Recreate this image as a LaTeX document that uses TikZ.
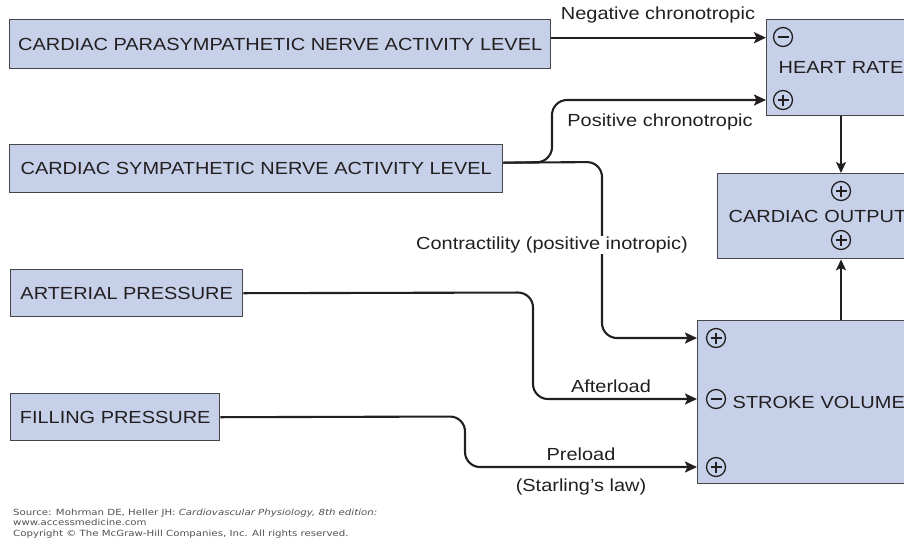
\documentclass[tikz,border=0pt]{standalone}
\usepackage{fontspec}
\setmainfont{Liberation Sans}[FakeStretch=1.14]
\newfontfamily\notefont{DejaVu Sans}[FakeStretch=1.2]
\usetikzlibrary{arrows.meta}

\definecolor{boxfill}{RGB}{198,208,233}
\definecolor{boxline}{RGB}{70,70,72}
\definecolor{ink}{RGB}{35,31,32}
\definecolor{notegray}{RGB}{80,80,80}
\newcommand\lbl{\fontsize{17.5}{20}\selectfont}
\newcommand\notesize{\notefont\fontsize{8.5}{10}\selectfont}

\begin{document}
\begin{tikzpicture}[x=1pt,y=-1pt,
  box/.style={draw=boxline, fill=boxfill, line width=1.4pt, inner ysep=0pt,
    text=ink, font=\lbl},
  leftbox/.style={box, anchor=north west, inner xsep=0pt},
  rightbox/.style={box, anchor=north west, align=left, text width=200pt},
  conn/.style={draw=ink, line width=2.1pt, rounded corners=15pt,
    -{Stealth[length=12pt,width=11pt,inset=2.5pt]}},
  vconn/.style={draw=ink, line width=1.8pt,
    -{Stealth[length=11pt,width=10pt,inset=2.5pt]}},
  tag/.style={text=ink, font=\lbl, inner sep=1pt},
  sign/.style={circle, draw=ink, line width=1.3pt, minimum size=19pt, inner sep=0pt},
  minus/.style={sign, path picture={\draw[line width=1.3pt]
    ([xshift=-5.5pt]path picture bounding box.center) --
    ([xshift=5.5pt]path picture bounding box.center);}},
  plus/.style={sign, path picture={\draw[line width=1.3pt]
    ([xshift=-5.5pt]path picture bounding box.center) --
    ([xshift=5.5pt]path picture bounding box.center)
    ([yshift=-5.5pt]path picture bounding box.center) --
    ([yshift=5.5pt]path picture bounding box.center);}},
  note/.style={anchor=base west, inner sep=0pt, text=notegray, font=\notesize}
]
\useasboundingbox (0,0) rectangle (904,542);
\clip (0,0) rectangle (904,542);

% input boxes on the left
\node[leftbox, minimum width=541pt, minimum height=49pt] (para) at (9,19)
  {CARDIAC PARASYMPATHETIC NERVE ACTIVITY LEVEL};
\node[leftbox, minimum width=493pt, minimum height=48pt] (sym) at (9,144)
  {CARDIAC SYMPATHETIC NERVE ACTIVITY LEVEL};
\node[leftbox, minimum width=232pt, minimum height=47pt] (art) at (10,269)
  {ARTERIAL PRESSURE};
\node[leftbox, minimum width=209pt, minimum height=47pt] (fill) at (10,393)
  {FILLING PRESSURE};

% output boxes on the right (running past the right edge)
\node[rightbox, inner xsep=12pt, minimum height=96pt] (hr) at (766,19) {HEART RATE};
\node[rightbox, inner xsep=11pt, minimum height=85pt] (co) at (717,173) {CARDIAC OUTPUT};
\node[rightbox, inner xsep=35pt, minimum height=163pt] (sv) at (697,320) {STROKE VOLUME};

% signs
\node[minus] (hrm) at (783,37) {};
\node[plus]  (hrp) at (783,100) {};
\node[plus]  (cot) at (841,191) {};
\node[plus]  (cob) at (841,240) {};
\node[plus]  (svt) at (716,338) {};
\node[minus] (svm) at (716,399) {};
\node[plus]  (svb) at (716,467) {};

% connectors
\draw[conn] ([yshift=6.5pt]para.east) -- ([yshift=6.5pt]para.east -| hr.west);
\draw[conn] ([yshift=6pt]sym.east) -- (552,162) -- (552,100) -- (hrp -| hr.west);
\draw[conn] ([yshift=6pt]sym.east) -- (602,162) -- (602,338) -- (svt -| sv.west);
\draw[conn] (art.east) -- (533,292.5) -- (533,399) -- (svm -| sv.west);
\draw[conn] (fill.east) -- (465,416.5) -- (465,467) -- (svb -| sv.west);
\draw[vconn] (hr.south -| cot) -- (co.north -| cot);
\draw[vconn] (sv.north -| cob) -- (co.south -| cob);

% connector labels
\node[tag] (lneg) at (658,15) {Negative chronotropic};
\node[tag] (lpos) at (660,122) {Positive chronotropic};
\node[tag, fill=white] (lcon) at (552,245) {Contractility (positive inotropic)};
\node[tag] (laft) at (611,386) {Afterload};
\node[tag] (lpre) at (581,454) {Preload};
\node[tag] (lsta) at (581,487) {(Starling’s law)};

% source note
\node[note] (n1) at (13,515) {Source: Mohrman DE, Heller JH: \textit{Cardiovascular Physiology, 8th edition:}};
\node[note] (n2) at (13,525.5) {www.accessmedicine.com};
\node[note] (n3) at (13,536) {Copyright © The McGraw-Hill Companies, Inc. All rights reserved.};
\end{tikzpicture}
\end{document}
